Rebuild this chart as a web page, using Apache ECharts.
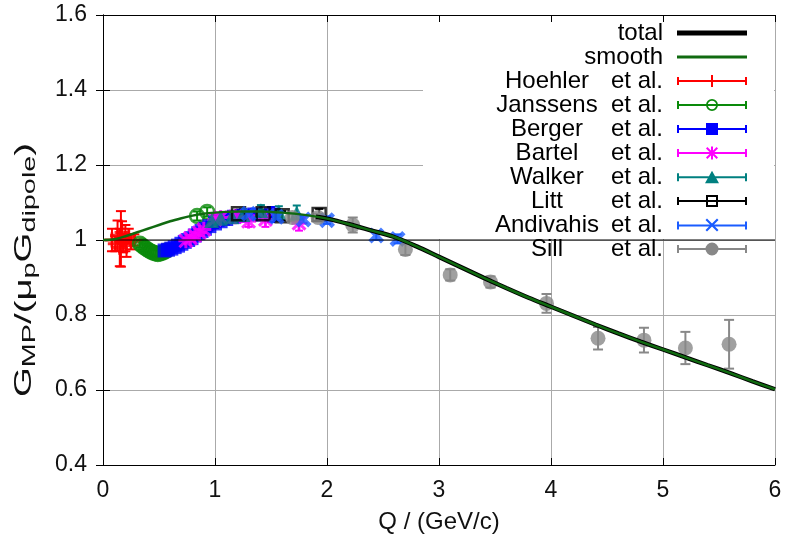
<!DOCTYPE html>
<html><head><meta charset="utf-8">
<script src="https://cdn.jsdelivr.net/npm/echarts@6/dist/echarts.min.js"></script>
<style>html,body{margin:0;padding:0;background:#fff}#c{width:794px;height:540px}</style>
</head><body><div id="c"></div>
<script>
// ---- data ----
const smoothQ = [0,0.1,0.2,0.3,0.4,0.5,0.6,0.7,0.8,0.9,1.0,1.1,1.2,1.4,1.6,1.8,2.0,2.2,2.4,2.6,2.8,3.0,3.2,3.4,3.6,3.8,4.0,4.2,4.4,4.6,4.8,5.0,5.2,5.4,5.6,5.8,6.0];
const smoothG = [1.000,1.002,1.010,1.020,1.030,1.040,1.050,1.058,1.065,1.070,1.073,1.075,1.076,1.076,1.073,1.067,1.057,1.042,1.025,1.008,0.983,0.955,0.927,0.899,0.872,0.846,0.822,0.798,0.774,0.751,0.729,0.708,0.687,0.666,0.645,0.623,0.602];
// the black "total" curve is only visible where it leaves the data points
const totalQ  = [1.9,2.0,2.2,2.4,2.6,2.8,3.0,3.2,3.4,3.6,3.8,4.0,4.2,4.4,4.6,4.8,5.0,5.2,5.4,5.6,5.8,6.0];
const totalG  = [1.062,1.057,1.042,1.025,1.008,0.983,0.955,0.927,0.899,0.872,0.846,0.822,0.798,0.774,0.751,0.729,0.708,0.687,0.666,0.645,0.623,0.602];
const unityQ = [0, 6];
const unityG = [1, 1];

const hoehlerQ   = [0.08,0.11,0.13,0.15,0.16,0.17,0.18,0.20,0.21,0.23,0.25,0.28];
const hoehlerG   = [1.000,0.990,1.012,0.980,1.003,1.020,0.992,1.005,0.985,1.010,0.995,1.000];
const hoehlerErr = [0.030,0.020,0.040,0.050,0.074,0.030,0.025,0.035,0.030,0.020,0.020,0.015];

const janssensQ   = [0.33,0.35,0.37,0.39,0.41,0.43,0.45,0.47,0.49,0.51,0.53,0.55,0.57,0.84,0.93];
const janssensG   = [0.990,0.985,0.980,0.976,0.972,0.969,0.966,0.964,0.963,0.964,0.966,0.969,0.972,1.064,1.075];
const janssensErr = [0.010,0.010,0.010,0.010,0.010,0.010,0.010,0.010,0.010,0.010,0.010,0.010,0.010,0.012,0.012];

const bergerQ   = [0.55,0.58,0.61,0.64,0.67,0.70,0.73,0.76,0.79,0.82,0.85,0.88,0.91,0.95,1.00,1.05,1.10,1.17,1.25,1.35,1.50];
const bergerG   = [0.972,0.974,0.977,0.981,0.985,0.990,0.995,1.000,1.005,1.012,1.018,1.024,1.030,1.037,1.044,1.050,1.056,1.062,1.065,1.068,1.068];
const bergerErr = [0.010,0.010,0.010,0.010,0.010,0.010,0.010,0.010,0.010,0.010,0.010,0.010,0.012,0.012,0.012,0.012,0.015,0.015,0.015,0.015,0.020];

const bartelQ   = [0.74,0.78,0.82,0.86,0.90,1.00,1.05,1.18,1.30,1.45,1.75];
const bartelG   = [0.998,1.005,1.012,1.020,1.028,1.055,1.060,1.062,1.050,1.055,1.045];
const bartelErr = [0.010,0.010,0.010,0.010,0.010,0.012,0.012,0.015,0.015,0.020,0.020];

const walkerQ   = [0.97,1.05,1.15,1.25,1.41,1.57,1.73];
const walkerG   = [1.052,1.058,1.062,1.068,1.078,1.075,1.072];
const walkerErr = [0.012,0.012,0.012,0.015,0.015,0.015,0.020];

const littQ   = [1.21,1.43,1.60,1.93];
const littG   = [1.070,1.070,1.065,1.068];
const littErr = [0.010,0.010,0.012,0.015];

const andivahisQ   = [1.30,1.55,1.79,2.00,2.44,2.63];
const andivahisG   = [1.070,1.062,1.055,1.053,1.012,1.003];
const andivahisErr = [0.010,0.010,0.010,0.010,0.012,0.012];

const sillQ   = [1.69,1.92,2.23,2.70,3.10,3.46,3.96,4.42,4.83,5.20,5.59];
const sillG   = [1.060,1.060,1.040,0.975,0.907,0.888,0.831,0.738,0.733,0.712,0.722];
const sillErr = [0.010,0.010,0.020,0.015,0.015,0.015,0.025,0.030,0.033,0.043,0.065];

const xMin = 0, xMax = 6, xStep = 1;
const yMin = 0.4, yMax = 1.6, yStep = 0.2;

// ---- helpers ----
const FONT = 'Liberation Sans';
const zip2 = (a, b) => a.map((v, i) => [v, b[i]]);
const zip3 = (a, b, c) => a.map((v, i) => [v, b[i], c[i]]);

function errRender(capHalf, color, lw) {
  return function (params, api) {
    const x = api.value(0), y = api.value(1), e = api.value(2);
    const t = api.coord([x, y + e]), b = api.coord([x, y - e]);
    const st = { stroke: color, lineWidth: lw };
    return { type: 'group', children: [
      { type: 'line', shape: { x1: t[0], y1: t[1], x2: b[0], y2: b[1] }, style: st },
      { type: 'line', shape: { x1: t[0] - capHalf, y1: t[1], x2: t[0] + capHalf, y2: t[1] }, style: st },
      { type: 'line', shape: { x1: b[0] - capHalf, y1: b[1], x2: b[0] + capHalf, y2: b[1] }, style: st }
    ]};
  };
}

const plusSym = 'path://M5,0H7.4V12.4H5Z M0,5H12.4V7.4H0Z';
const xSym = 'path://M0,2.5L2.5,0L12,9.5L9.5,12Z M9.5,0L12,2.5L2.5,12L0,9.5Z';
const starSym = 'path://M4.8,0H7.2V12H4.8Z M0,4.8H12V7.2H0Z M0,1.7L1.7,0L12,10.3L10.3,12Z M10.3,0L12,1.7L1.7,12L0,10.3Z';

const sets = [
  { name: 'Hoehler',   q: hoehlerQ,   g: hoehlerG,   e: hoehlerErr,   color: '#ff0000', symbol: plusSym,  size: 15, cap: 5, hollow: false,
    icon: 'M34,1H36V13H34Z' },
  { name: 'Janssens',  q: janssensQ,  g: janssensG,  e: janssensErr,  color: '#0a8a0a', symbol: 'circle', size: 14, cap: 4, hollow: true,
    icon: 'M29,7A6,6 0 1,1 41,7A6,6 0 1,1 29,7Z M30.8,7A4.2,4.2 0 1,0 39.2,7A4.2,4.2 0 1,0 30.8,7Z' },
  { name: 'Berger',    q: bergerQ,    g: bergerG,    e: bergerErr,    color: '#0000ff', symbol: 'rect', size: 14, cap: 4, hollow: false,
    icon: 'M29,1H41V13H29Z' },
  { name: 'Bartel',    q: bartelQ,    g: bartelG,    e: bartelErr,    color: '#ff00ff', symbol: starSym, size: 15, cap: 4, hollow: false,
    icon: 'M34,0.5H36V13.5H34Z M29,2.4L30.4,1L41,11.6L39.6,13Z M39.6,1L41,2.4L30.4,13L29,11.6Z' },
  { name: 'Walker',    q: walkerQ,    g: walkerG,    e: walkerErr,    color: '#008080', symbol: 'triangle', size: 15, cap: 4, hollow: false,
    icon: 'M35,0.5L42,13L28,13Z' },
  { name: 'Litt',      q: littQ,      g: littG,      e: littErr,      color: '#000000', symbol: 'rect', size: 13, cap: 4, hollow: true,
    icon: 'M29,1H41V13H29Z M31,3V11H39V3Z' },
  { name: 'Andivahis', q: andivahisQ, g: andivahisG, e: andivahisErr, color: '#1a5cff', symbol: xSym, size: 16, cap: 4, hollow: false,
    icon: 'M28.5,1.5L30,0L41.5,11.5L40,13Z M40,0L41.5,1.5L30,13L28.5,11.5Z' },
  { name: 'Sill',      q: sillQ,      g: sillG,      e: sillErr,      color: '#888888', symbol: 'circle', size: 15, cap: 5, hollow: false,
    icon: 'M28.5,7A6.5,6.5 0 1,1 41.5,7A6.5,6.5 0 1,1 28.5,7Z' }
];

const baseIcon = 'M0,6H70V8H0Z M0,3H2V11H0Z M68,3H70V11H68Z ';

const series = [
  { name: 'unity', type: 'line', data: zip2(unityQ, unityG), symbol: 'none', silent: true,
    lineStyle: { color: '#000', width: 1 }, itemStyle: { color: '#000' } },
  { name: 'total', type: 'line', data: zip2(totalQ, totalG), symbol: 'none', smooth: 0.3,
    lineStyle: { color: '#000', width: 4.5 }, itemStyle: { color: '#000' } },
  { name: 'smooth', type: 'line', data: zip2(smoothQ, smoothG), symbol: 'none', smooth: 0.3,
    lineStyle: { color: '#106a10', width: 2.5 }, itemStyle: { color: '#106a10' } }
];
sets.forEach(s => {
  series.push({ name: s.name, type: 'custom', data: zip3(s.q, s.g, s.e),
    encode: { x: 0, y: 1 }, renderItem: errRender(s.cap, s.color, 2), itemStyle: { color: s.color } });
  series.push({ name: s.name, type: 'scatter', data: zip2(s.q, s.g), symbol: s.symbol, symbolSize: s.size,
    itemStyle: s.hollow ? { color: 'rgba(0,0,0,0)', borderColor: s.color, borderWidth: 2.5 } : { color: s.color } });
});

const legendData = [
  { name: 'total',  icon: 'path://M0,4.5H70V9.5H0Z', itemStyle: { color: '#000' } },
  { name: 'smooth', icon: 'path://M0,5.5H70V8.5H0Z', itemStyle: { color: '#106a10' } }
].concat(sets.map(s => ({ name: s.name, icon: 'path://' + baseIcon + s.icon, itemStyle: { color: s.color, borderWidth: 0 } })));

const LH = 21.7;
const option = {
  animation: false,
  backgroundColor: '#fff',
  grid: { left: 103, right: 19, top: 15, bottom: 75 },
  xAxis: [
    { type: 'value', min: xMin, max: xMax, interval: xStep, position: 'bottom',
      name: 'Q / (GeV/c)', nameLocation: 'middle', nameGap: 45,
      nameTextStyle: { fontSize: 24, fontFamily: FONT, color: '#111' },
      axisLine: { show: true, lineStyle: { color: '#000', width: 1 } },
      axisTick: { show: true, inside: true, length: 7, lineStyle: { color: '#000' } },
      axisLabel: { fontSize: 23, fontFamily: FONT, color: '#111', margin: 14 },
      splitLine: { show: true, lineStyle: { color: '#aaaaaa', width: 1 } } },
    { type: 'value', min: xMin, max: xMax, interval: xStep, position: 'top', z: 3,
      axisLine: { show: true, lineStyle: { color: '#000', width: 1 } },
      axisTick: { show: true, inside: true, length: 7, lineStyle: { color: '#000' } },
      axisLabel: { show: false }, splitLine: { show: false } }
  ],
  yAxis: [
    { type: 'value', min: yMin, max: yMax, interval: yStep, position: 'left',
      axisLine: { show: true, lineStyle: { color: '#000', width: 1 } },
      axisTick: { show: true, inside: true, length: 7, lineStyle: { color: '#000' } },
      axisLabel: { fontSize: 23, fontFamily: FONT, color: '#111', margin: 16 },
      splitLine: { show: true, lineStyle: { color: '#aaaaaa', width: 1 } } },
    { type: 'value', min: yMin, max: yMax, interval: yStep, position: 'right', z: 3,
      axisLine: { show: true, lineStyle: { color: '#000', width: 1 } },
      axisTick: { show: true, inside: true, length: 7, lineStyle: { color: '#000' } },
      axisLabel: { show: false }, splitLine: { show: false } }
  ],
  legend: {
    orient: 'vertical', right: 47, top: 21, align: 'right', padding: 0,
    itemWidth: 70, itemHeight: 14, itemGap: 0, selectedMode: false,
    itemStyle: { borderWidth: 0 },
    data: legendData,
    formatter: function (name) {
      if (name === 'total' || name === 'smooth') return '{t|' + name + '}';
      return '{n|' + name + '}{e|et al.}';
    },
    textStyle: {
      fontSize: 24, fontFamily: FONT, color: '#000', lineHeight: LH,
      rich: {
        t: { fontSize: 24, fontFamily: FONT, color: '#000', lineHeight: LH, padding: [0, 9, 0, 0] },
        n: { fontSize: 24, fontFamily: FONT, color: '#000', lineHeight: LH, width: 128, align: 'center' },
        e: { fontSize: 24, fontFamily: FONT, color: '#000', lineHeight: LH, padding: [0, 9, 0, 0] }
      }
    }
  },
  graphic: [
    { type: 'rect', z: 1, silent: true, shape: { x: 423, y: 16, width: 351, height: 223 }, style: { fill: '#fff' } },
    { type: 'text', x: 30, y: 270, rotation: Math.PI / 2, scaleX: 1.6, silent: true,
      style: {
        text: '{m|G}{s|MP}{m|/(μ}{s|p}{m|G}{s|dipole}{m|)}',
        align: 'center', verticalAlign: 'middle', fill: '#111',
        rich: {
          m: { fontSize: 24, fontFamily: FONT, fill: '#111', lineHeight: 22, verticalAlign: 'top' },
          s: { fontSize: 18, fontFamily: FONT, fill: '#111', lineHeight: 36, verticalAlign: 'middle' }
        }
      } }
  ],
  series: series
};
const chart = echarts.init(document.getElementById('c'), null, { renderer: 'canvas' });
chart.setOption(option);
</script>
</body></html>
